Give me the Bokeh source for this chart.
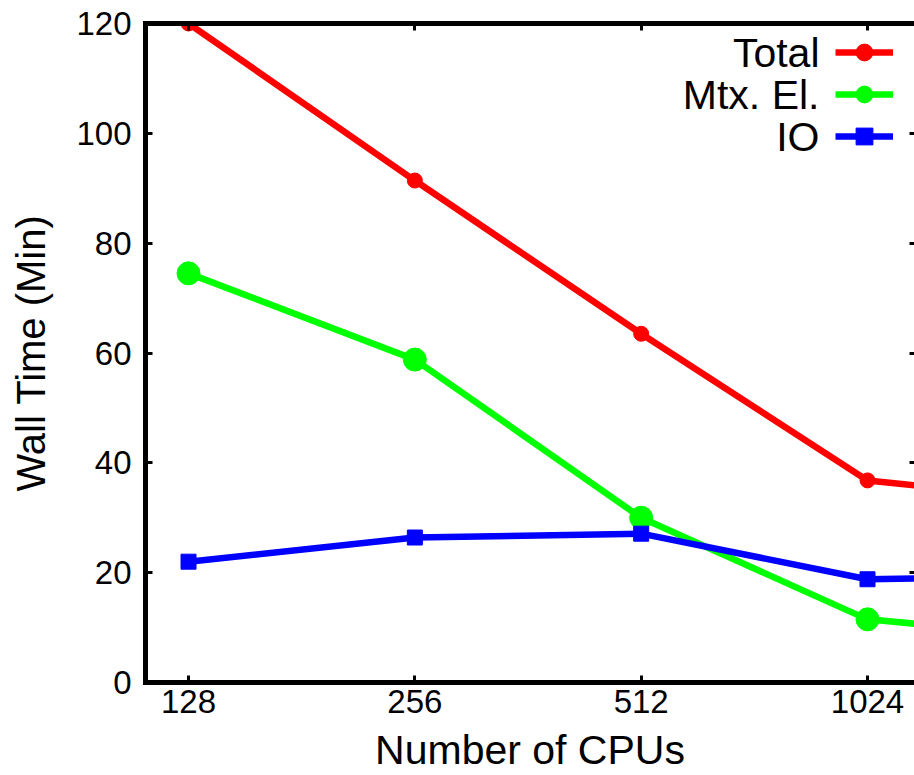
from bokeh.plotting import figure
from bokeh.models import (FixedTicker, NumeralTickFormatter, LinearAxis, LogAxis,
                          Legend, LegendItem, Label, Range1d)
from bokeh.embed import file_html
from bokeh.resources import INLINE

# ---- data ----
cpus = [128, 256, 512, 1024, 2048]
total = [120.0, 91.4, 63.5, 36.8, 32.5]
mtx_el = [74.5, 58.8, 30.0, 11.5, 7.7]
io = [22.0, 26.4, 27.1, 18.8, 19.4]
series_names = ["Total", "Mtx. El.", "IO"]
x_ticks = [128, 256, 512, 1024]
y_ticks = [0, 20, 40, 60, 80, 100, 120]

FONT = "Liberation Sans"
RED, GREEN, BLUE = "#ff0000", "#00ff00", "#0000ff"

p = figure(width=914, height=775, x_axis_type="log",
           x_range=Range1d(112.2, 1182.5), y_range=Range1d(0, 120),
           output_backend="svg", toolbar_location=None,
           min_border_left=145, min_border_right=0,
           min_border_top=23, min_border_bottom=93)
p.outline_line_color = None
p.grid.visible = False
p.background_fill_color = "white"
p.border_fill_color = "white"

def style_axis(ax, labels=True, ticks=None):
    ax.axis_line_color = "black"
    ax.axis_line_width = 5
    ax.axis_line_cap = "square"
    ax.major_tick_in = 7
    ax.major_tick_out = 0
    ax.major_tick_line_width = 3
    ax.major_tick_line_color = "black"
    ax.minor_tick_line_color = None
    ax.major_label_text_font = FONT
    ax.major_label_text_color = "black"
    if labels:
        ax.major_label_text_font_size = "33px"
    else:
        ax.major_label_text_font_size = "1px"
        ax.major_label_standoff = 0
        ax.major_label_overrides = {t: "" for t in ticks}

# bottom axis
xa = p.xaxis[0]
xa.ticker = FixedTicker(ticks=x_ticks)
xa.formatter = NumeralTickFormatter(format="0")
style_axis(xa)
xa.major_label_standoff = 7
xa.axis_label = "Number of CPUs"
xa.axis_label_text_font = FONT
xa.axis_label_text_font_size = "41px"
xa.axis_label_text_font_style = "normal"
xa.axis_label_text_color = "black"
xa.axis_label_standoff = 11

# left axis
ya = p.yaxis[0]
ya.ticker = FixedTicker(ticks=y_ticks)
style_axis(ya)
ya.major_label_standoff = 14
ya.axis_label = "Wall Time (Min)"
ya.axis_label_text_font = FONT
ya.axis_label_text_font_size = "40px"
ya.axis_label_text_font_style = "normal"
ya.axis_label_text_color = "black"
ya.axis_label_standoff = 20

# top border with mirrored ticks
top = LogAxis(ticker=FixedTicker(ticks=x_ticks))
style_axis(top, labels=False, ticks=x_ticks)
p.add_layout(top, "above")

# right side: mirrored ticks only (the border lies just outside the window)
right = LinearAxis(ticker=FixedTicker(ticks=y_ticks))
style_axis(right, labels=False, ticks=y_ticks)
right.axis_line_color = None
right.major_tick_in = 5
p.add_layout(right, "right")

# ---- series ----
r_items = []
for vals, color, marker, size in [(total, RED, "circle", 15),
                                  (mtx_el, GREEN, "circle", 23),
                                  (io, BLUE, "square", 15)]:
    ln = p.line(cpus, vals, line_color=color, line_width=6.5)
    sc = p.scatter(cpus, vals, marker=marker, size=size,
                   fill_color=color, line_color=color)
    r_items.append([ln, sc])

# legend: gnuplot style (text on the left, sample on the right)
legend = Legend(items=[LegendItem(label=" ", renderers=r) for r in r_items],
                location=(690, 525), orientation="vertical",
                glyph_width=58, glyph_height=42, label_width=0, label_height=42,
                label_standoff=0, label_text_font_size="1px",
                padding=0, spacing=0, margin=0,
                border_line_color=None, background_fill_alpha=0)
p.add_layout(legend)

for i, name in enumerate(series_names):
    p.add_layout(Label(x=674, y=630 - 42 * i, x_units="screen", y_units="screen",
                       text=name, text_align="right", text_baseline="middle",
                       text_font=FONT, text_font_size="41px", text_color="black"))

open("out.html", "w").write(file_html(p, INLINE))
